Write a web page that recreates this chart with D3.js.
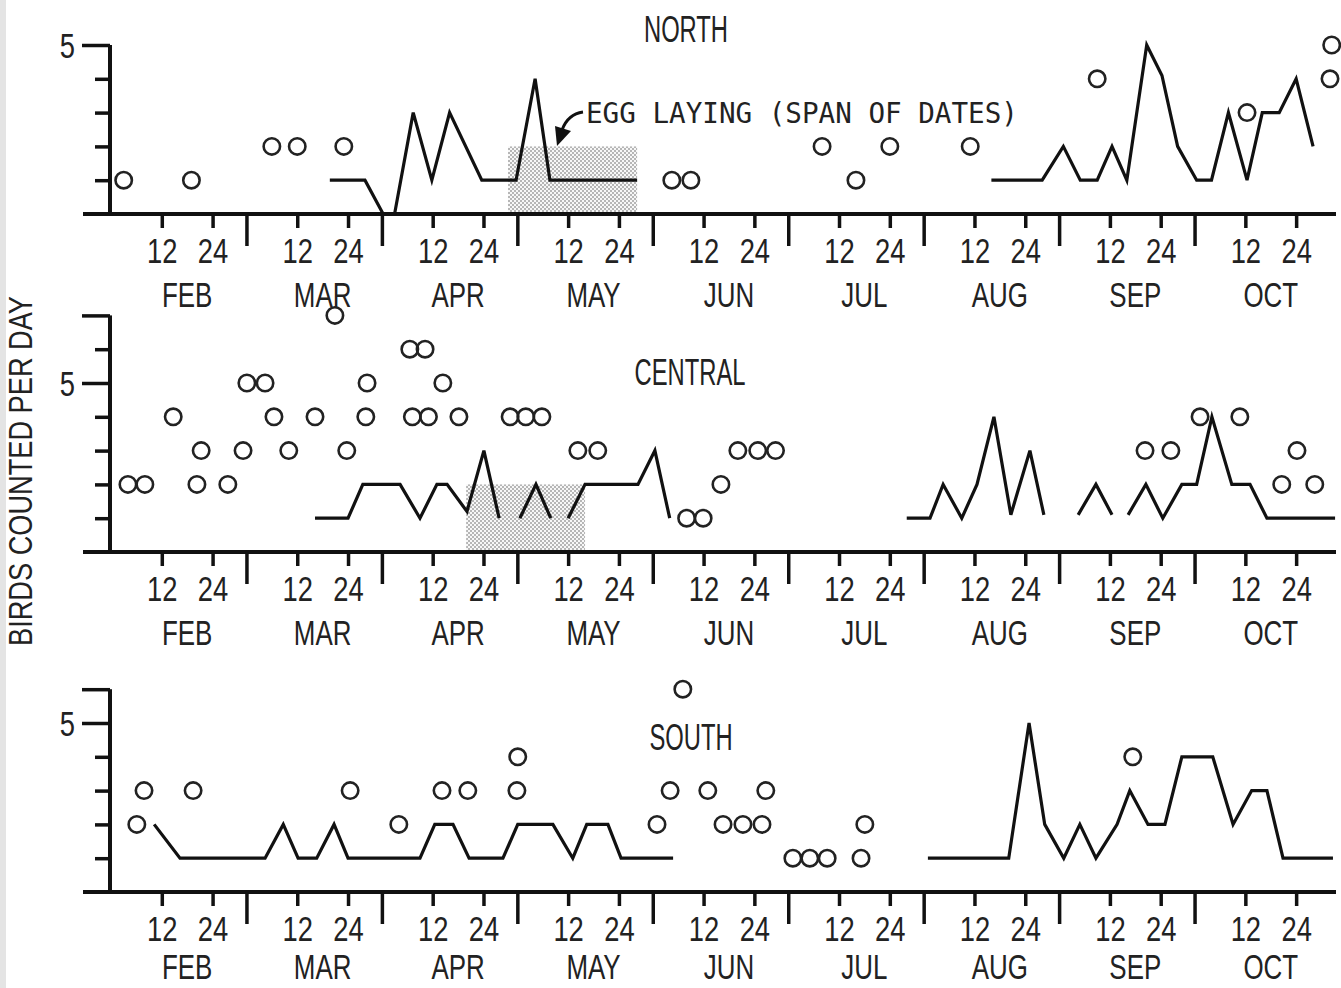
<!DOCTYPE html>
<html>
<head>
<meta charset="utf-8">
<script src="https://cdn.jsdelivr.net/npm/d3@7"></script>
<style>
  body { margin: 0; background: #fff; }
  svg { display: block; }
  .lbl { font-family: 'Liberation Sans', Arial, sans-serif; fill: #222; }
  .mono { font-family: 'DejaVu Sans Mono', 'Liberation Mono', monospace; fill: #222; }
</style>
</head>
<body>
<div id="chart"></div>
<script>
const W = 1341, H = 988

const months = ['FEB', 'MAR', 'APR', 'MAY', 'JUN', 'JUL', 'AUG', 'SEP', 'OCT']
const dayTicks = [12, 24]
const yTitle = 'BIRDS COUNTED PER DAY'
const eggLabel = 'EGG LAYING (SPAN OF DATES)'

// [month, day, birds]
const northCircles = [
  ['FEB', 3, 1], ['FEB', 19, 1], ['MAR', 6, 2], ['MAR', 12, 2], ['MAR', 23, 2],
  ['JUN', 4.5, 1], ['JUN', 9, 1], ['JUL', 8, 2], ['JUL', 16, 1], ['JUL', 24, 2],
  ['AUG', 11, 2], ['SEP', 9, 4], ['OCT', 12.4, 3], ['OCT', 32.4, 5], ['OCT', 32, 4],
]
const northLines = [
  [['MAR', 19.7, 1], ['MAR', 28, 1], ['APR', 0.3, 0], ['APR', 3, 0], ['APR', 7.4, 3], ['APR', 11.8, 1],
   ['APR', 16, 3], ['APR', 23.6, 1], ['APR', 31.7, 1], ['MAY', 4.2, 4], ['MAY', 7.7, 1], ['MAY', 28.3, 1]],
  [['AUG', 16, 1], ['AUG', 28, 1], ['SEP', 1, 2], ['SEP', 5, 1], ['SEP', 9, 1], ['SEP', 12.5, 2],
   ['SEP', 16, 1], ['SEP', 20.7, 5], ['SEP', 24.3, 4.1], ['SEP', 28, 2], ['OCT', 0.5, 1], ['OCT', 4, 1],
   ['OCT', 8, 3], ['OCT', 12.4, 1], ['OCT', 16, 3], ['OCT', 20, 3], ['OCT', 24, 4], ['OCT', 28, 2]],
]
const northEgg = [['APR', 29.8], ['MAY', 28.3]]

const centralCircles = [
  ['FEB', 4, 2], ['FEB', 8, 2], ['FEB', 14.7, 4], ['FEB', 21.3, 3], ['FEB', 20.3, 2], ['FEB', 27.6, 2],
  ['FEB', 31.2, 3], ['MAR', 0.1, 5], ['MAR', 4.4, 5], ['MAR', 6.5, 4], ['MAR', 10, 3], ['MAR', 16.2, 4],
  ['MAR', 20.9, 7], ['MAR', 23.7, 3], ['MAR', 28.5, 5], ['MAR', 28.2, 4], ['APR', 6.6, 6], ['APR', 10.2, 6],
  ['APR', 7.2, 4], ['APR', 11, 4], ['APR', 14.4, 5], ['APR', 18.2, 4], ['APR', 30.3, 4], ['MAY', 2, 4],
  ['MAY', 5.8, 4], ['MAY', 14.3, 3], ['MAY', 19, 3], ['JUN', 8, 1], ['JUN', 11.9, 1], ['JUN', 16.1, 2],
  ['JUN', 20.1, 3], ['JUN', 24.8, 3], ['JUN', 29, 3], ['SEP', 20.3, 3], ['SEP', 26.4, 3], ['OCT', 1.3, 4],
  ['OCT', 10.7, 4], ['OCT', 24.2, 3], ['OCT', 20.6, 2], ['OCT', 28.4, 2],
]
const centralLines = [
  [['MAR', 16.2, 1], ['MAR', 24, 1], ['MAR', 27.5, 2], ['APR', 4.3, 2], ['APR', 9, 1], ['APR', 13, 2],
   ['APR', 15.4, 2], ['APR', 20.1, 1.2], ['APR', 24.1, 3], ['APR', 27.7, 1]],
  [['MAY', 0.6, 1], ['MAY', 4.4, 2], ['MAY', 7.9, 1]],
  [['MAY', 12, 1], ['MAY', 16, 2], ['MAY', 28.5, 2], ['JUN', 0.5, 3], ['JUN', 4, 1]],
  [['JUL', 28, 1], ['AUG', 1.5, 1], ['AUG', 4.6, 2], ['AUG', 9, 1], ['AUG', 12.6, 2], ['AUG', 16.6, 4],
   ['AUG', 20.6, 1.1], ['AUG', 25.1, 3], ['AUG', 28.4, 1.1]],
  [['SEP', 4.5, 1.1], ['SEP', 8.7, 2], ['SEP', 12.5, 1.1]],
  [['SEP', 16.3, 1.1], ['SEP', 20.5, 2], ['SEP', 24.5, 1], ['SEP', 29, 2], ['OCT', 0.5, 2], ['OCT', 4.1, 4],
   ['OCT', 8.8, 2], ['OCT', 13.1, 2], ['OCT', 17.1, 1], ['OCT', 33.2, 1]],
]
const centralEgg = [['APR', 19.9], ['MAY', 16]]

const southCircles = [
  ['FEB', 6.1, 2], ['FEB', 7.8, 3], ['FEB', 19.4, 3], ['MAR', 24.5, 3], ['APR', 4, 2], ['APR', 14.2, 3],
  ['APR', 20.3, 3], ['MAY', 0.1, 4], ['APR', 31.9, 3], ['JUN', 1, 2], ['JUN', 4.1, 3], ['JUN', 7.1, 6],
  ['JUN', 13, 3], ['JUN', 16.6, 2], ['JUN', 21.3, 2], ['JUN', 25.8, 2], ['JUN', 26.7, 3], ['JUL', 1.1, 1],
  ['JUL', 5.1, 1], ['JUL', 9.2, 1], ['JUL', 17.2, 1], ['JUL', 18.1, 2], ['SEP', 17.4, 4],
]
const southLines = [
  [['FEB', 10.2, 2], ['FEB', 16.3, 1], ['MAR', 4.4, 1], ['MAR', 8.7, 2], ['MAR', 12.2, 1], ['MAR', 16.6, 1],
   ['MAR', 20.7, 2], ['MAR', 24, 1], ['APR', 9, 1], ['APR', 12.5, 2], ['APR', 16.8, 2], ['APR', 20.6, 1],
   ['APR', 28.6, 1], ['MAY', 0.1, 2], ['MAY', 8.4, 2], ['MAY', 13.1, 1], ['MAY', 16.4, 2], ['MAY', 21.4, 2],
   ['MAY', 24.5, 1], ['JUN', 4.8, 1]],
  [['AUG', 1, 1], ['AUG', 20.1, 1], ['AUG', 24.9, 5], ['AUG', 28.6, 2], ['SEP', 1.1, 1], ['SEP', 4.9, 2],
   ['SEP', 8.7, 1], ['SEP', 13.7, 2], ['SEP', 16.7, 3], ['SEP', 21, 2], ['SEP', 25, 2], ['SEP', 29, 4],
   ['OCT', 4.3, 4], ['OCT', 9.1, 2], ['OCT', 13.5, 3], ['OCT', 17.1, 3], ['OCT', 20.9, 1], ['OCT', 32.7, 1]],
]

const panels = [
  { title: 'NORTH', base: 214, top: 5, titleX: 686, titleY: 42, circles: northCircles, lines: northLines, egg: northEgg },
  { title: 'CENTRAL', base: 552, top: 7, titleX: 690, titleY: 385, circles: centralCircles, lines: centralLines, egg: centralEgg },
  { title: 'SOUTH', base: 892, top: 6, titleX: 691, titleY: 750, circles: southCircles, lines: southLines, egg: null },
]

const svg = d3.select('#chart').append('svg').attr('width', W).attr('height', H)

// 点状网纹（产卵期）
const pat = svg.append('defs').append('pattern')
  .attr('id', 'stipple').attr('patternUnits', 'userSpaceOnUse')
  .attr('width', 4).attr('height', 4)
pat.append('rect').attr('width', 4).attr('height', 4).attr('fill', '#f7f7f7')
pat.append('circle').attr('cx', 1).attr('cy', 1).attr('r', 0.75).attr('fill', '#555')
pat.append('circle').attr('cx', 3).attr('cy', 3).attr('r', 0.75).attr('fill', '#555')

// 扫描件左边缘
svg.append('rect').attr('x', 0).attr('y', 0).attr('width', 6).attr('height', H).attr('fill', '#e4e4e4')

// 窄体字：横向压缩
const narrow = (sel, px, py, sx) =>
  sel.attr('x', 0).attr('y', 0).attr('transform', `translate(${px},${py}) scale(${sx},1)`)

// 月份按 32 "日" 等宽
const dayPos = (m, d) => months.indexOf(m) * 32 + d
const x = d3.scaleLinear().domain([0, months.length * 32]).range([111, 1330])
const unit = 33.8

panels.forEach(p => {
  const y = d3.scaleLinear().domain([0, 5]).range([p.base, p.base - 5 * unit])
  const g = svg.append('g')

  if (p.egg) {
    const x0 = x(dayPos(...p.egg[0]))
    const x1 = x(dayPos(...p.egg[1]))
    g.append('rect')
      .attr('x', x0).attr('y', y(2))
      .attr('width', x1 - x0).attr('height', y(0) - y(2))
      .attr('fill', 'url(#stipple)')
  }

  // 横轴
  g.append('line')
    .attr('x1', 83).attr('x2', 1336)
    .attr('y1', p.base).attr('y2', p.base)
    .attr('stroke', '#111').attr('stroke-width', 4)

  const dayVals = d3.range(months.length).flatMap(i => dayTicks.map(d => i * 32 + d))
  const dayAxis = d3.axisBottom(x).tickValues(dayVals).tickSize(14).tickPadding(9)
    .tickFormat(v => String(v % 32))
  const ax = g.append('g').attr('transform', `translate(0,${p.base})`).call(dayAxis)
  ax.select('.domain').remove()
  ax.selectAll('.tick line').attr('stroke', '#111').attr('stroke-width', 3.5)
  ax.selectAll('.tick text').attr('class', 'lbl').attr('font-size', 36).attr('fill', '#222')
    .attr('dy', null).attr('y', 49).attr('transform', 'scale(0.76,1)')

  const monAxis = d3.axisBottom(x).tickValues(d3.range(1, months.length).map(i => i * 32))
    .tickSize(32).tickFormat('')
  const mx = g.append('g').attr('transform', `translate(0,${p.base})`).call(monAxis)
  mx.select('.domain').remove()
  mx.selectAll('.tick line').attr('stroke', '#111').attr('stroke-width', 3.5)

  g.selectAll('text.month').data(months).join('text')
    .attr('class', 'lbl month')
    .attr('text-anchor', 'middle')
    .attr('font-size', 36)
    .text(m => m)
    .each(function (m, i) {
      narrow(d3.select(this), x(i * 32 + 18), Math.min(p.base + 93, H - 9), 0.72)
    })

  // 纵轴
  const yAxis = d3.axisLeft(y).tickValues(d3.range(1, p.top + 1)).tickSize(15)
    .tickFormat(v => (v === 5 ? '5' : ''))
  const ay = g.append('g').attr('transform', 'translate(110,0)').call(yAxis)
  ay.select('.domain').attr('d', `M0,${y(p.top)}V${p.base}`).attr('stroke', '#111').attr('stroke-width', 4)
  ay.selectAll('.tick line')
    .attr('stroke', '#111').attr('stroke-width', 3.5)
    .attr('x2', v => (v === 5 || v === p.top ? -28 : -15))
  ay.selectAll('.tick text').attr('class', 'lbl').attr('font-size', 36)
    .attr('x', -35 / 0.76).attr('dy', '0.36em').attr('transform', 'scale(0.76,1)')

  narrow(g.append('text').attr('class', 'lbl')
    .attr('text-anchor', 'middle').attr('font-size', 36)
    .text(p.title), p.titleX, p.titleY, 0.66)

  const line = d3.line().x(d => x(dayPos(d[0], d[1]))).y(d => y(d[2]))
  g.selectAll('path.series').data(p.lines).join('path')
    .attr('class', 'series')
    .attr('d', line)
    .attr('fill', 'none').attr('stroke', '#111')
    .attr('stroke-width', 3.2).attr('stroke-linejoin', 'miter')

  g.selectAll('circle.obs').data(p.circles).join('circle')
    .attr('class', 'obs')
    .attr('cx', d => x(dayPos(d[0], d[1])))
    .attr('cy', d => y(d[2]))
    .attr('r', 8.2)
    .attr('fill', 'none').attr('stroke', '#222').attr('stroke-width', 2.6)
})

// 产卵期标注
svg.append('text').attr('class', 'mono')
  .attr('x', 586).attr('y', 123).attr('font-size', 27.6)
  .text(eggLabel)
svg.append('path')
  .attr('d', 'M583,112 Q568,114 562,130')
  .attr('fill', 'none').attr('stroke', '#111').attr('stroke-width', 3)
svg.append('path')
  .attr('d', 'M555,126 L571,131 L557,146 Z')
  .attr('fill', '#111')

svg.append('text').attr('class', 'lbl')
  .attr('transform', 'translate(32,471) rotate(-90) scale(0.8,1)')
  .attr('text-anchor', 'middle').attr('font-size', 34)
  .text(yTitle)
</script>
</body>
</html>
